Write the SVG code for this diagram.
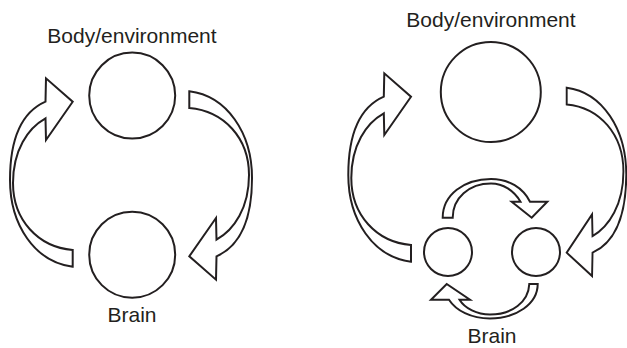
<svg xmlns="http://www.w3.org/2000/svg" xmlns:xlink="http://www.w3.org/1999/xlink" width="627" height="348" viewBox="0 0 627 348">
  <style>
    .node { fill: #ffffff; stroke: #231f20; stroke-width: 2; }
    .arrow { fill: #ffffff; stroke: #231f20; stroke-width: 2; stroke-linejoin: miter; }
    .label { font-family: "Liberation Sans", Arial, Helvetica, sans-serif; font-size: 21px; fill: #231f20; text-anchor: middle; }
  </style>
  <defs>
    <!-- Large curved block arrow: tail at lower right, sweeps left and up, head points right -->
    <path id="bigArrow" d="M 72.7,266.7 C 35,262 10,225 10,180 C 10,138 22,112 45.5,101.7 L 46,78.3 L 72.7,101.7 L 46,140 L 45.5,118.3 C 28,128 13,150 13,183 C 13,220 38,247 72.7,250 Z"/>
  </defs>

  <!-- Left cycle -->
  <g id="left-body">
    <circle class="node" cx="132.2" cy="95.6" r="43"/>
    <text class="label" x="132" y="42.7">Body/environment</text>
  </g>
  <g id="left-brain">
    <circle class="node" cx="132.2" cy="254.7" r="43"/>
    <text class="label" x="132" y="322">Brain</text>
  </g>

  <!-- Right cycle -->
  <g id="right-body">
    <circle class="node" cx="490.8" cy="92" r="50"/>
    <text class="label" x="491" y="26.7">Body/environment</text>
  </g>
  <g id="right-brain">
    <circle class="node" cx="448" cy="252" r="24"/>
    <circle class="node" cx="536" cy="252" r="24"/>
    <text class="label" x="492" y="343">Brain</text>
  </g>

  <g id="connectors">
    <!-- left cycle: brain -> body, body -> brain -->
    <use xlink:href="#bigArrow" class="arrow"/>
    <use xlink:href="#bigArrow" class="arrow" transform="rotate(180 131 179)"/>
    <!-- right cycle: brain -> body, body -> brain -->
    <use xlink:href="#bigArrow" class="arrow" transform="translate(338.3 -5)"/>
    <use xlink:href="#bigArrow" class="arrow" transform="translate(566.7 0) scale(0.95 1) translate(-566.7 0) rotate(180 488.85 174.7) translate(338.3 -5)"/>
    <!-- inner loop between the two brain parts -->
    <path class="arrow" d="M 442.7,217.7 C 442.7,195 464,179 491,179 C 509,179 523,188 530,201.7 L 547.3,201.7 L 531.7,217.7 L 511.7,201.7 L 520.5,201.7 C 514,190.5 503,183.5 491,183.5 C 469,183.5 452.7,198 452.7,217.7 Z"/>
    <path class="arrow" d="M 537.7,284 C 537.7,304 516,318.5 490,318.5 C 471,318.5 456,310.5 449,299.7 L 431,299.7 L 446.7,284 L 470,299.7 L 459.5,299.7 C 465,308.5 477,314.5 490,314.5 C 512,314.5 528.5,302 529.3,284 Z"/>
  </g>
</svg>
